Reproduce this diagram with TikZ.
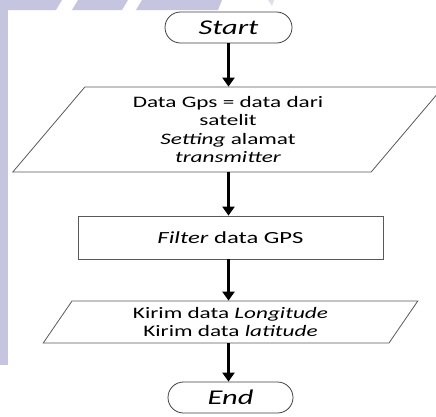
\documentclass[tikz,border=0pt]{standalone}
\usepackage{fontspec}
\setmainfont{Carlito}[FakeStretch=1.45]
\usetikzlibrary{shapes.geometric,shapes.misc,arrows.meta}

\tikzset{
  terminal/.style = {rounded rectangle, draw=black!75, line width=0.8pt,
    minimum height=31pt, inner sep=0pt, font=\fontsize{21}{22}\selectfont\itshape},
  io/.style = {trapezium, trapezium stretches=true, draw=black!65, line width=0.8pt,
    inner sep=0pt, align=center, font=\fontsize{16}{18.5}\selectfont},
  process/.style = {rectangle, draw=black!65, line width=0.8pt, inner sep=0pt,
    align=center, font=\fontsize{17}{18.5}\selectfont},
  arrow/.style = {line width=2.4pt, -{Triangle[length=9pt,width=12pt]}}
}

\begin{document}
\begin{tikzpicture}[x=1pt,y=-1pt]
      \useasboundingbox (0,0) rectangle (436,416);
      \fill[white] (0,0) rectangle (436,416);

      % watermark
      \fill[blue!30!gray!35] (0,0) rectangle (8,365);
      \fill[blue!30!gray!35] (0,0) -- (62,0) -- (56,10) -- (0,10) -- cycle;
      \fill[blue!30!gray!35] (78,0) -- (128,0) -- (122,10) -- (72,10) -- cycle;
      \fill[blue!30!gray!35] (142,0) -- (222,0) -- (218,10) -- (136,10) -- cycle;
      \fill[blue!30!gray!20] (268,0) -- (274,0) -- (272,6) -- cycle;

      \node[terminal, minimum width=127pt] (start) at (228.5,27.5) {Start};
      \node[io, trapezium left angle=54.3, trapezium right angle=125.7,
            minimum width=432pt, minimum height=85pt] (gps) at (228,129.5)
            {Data Gps = data dari\\ satelit\\ \textit{Setting} alamat\\ \textit{transmitter}};
      \node[process, minimum width=305pt, minimum height=43pt] (filter) at (230.5,237.5)
            {\textit{Filter} data GPS};
      \node[io, trapezium left angle=59.2, trapezium right angle=120.8,
            minimum width=375pt, minimum height=42pt] (kirim) at (230.5,322)
            {Kirim data \textit{Longitude}\\ Kirim data \textit{latitude}};
      \node[terminal, minimum width=125pt] (end) at (230.5,397.5) {End};

      \draw[arrow] (start.south) -- (start.south |- gps.north);
      \draw[arrow] (gps.south -| start.south) -- (start.south |- filter.north);
      \draw[arrow] (filter.south -| start.south) -- (start.south |- kirim.north);
      \draw[arrow] (kirim.south -| start.south) -- (start.south |- end.north);

    \end{tikzpicture}
\end{document}
